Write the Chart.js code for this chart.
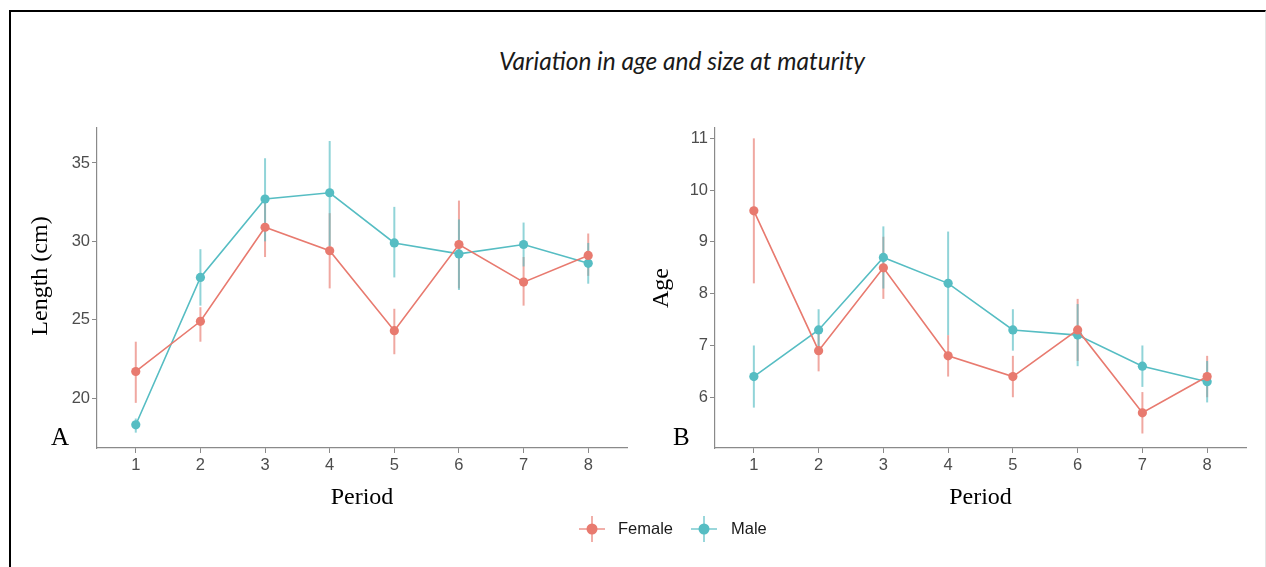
<!DOCTYPE html>
<html>
<head>
<meta charset="utf-8">
<script src="https://cdn.jsdelivr.net/npm/chart.js@4.4.1/dist/chart.umd.min.js"></script>
<style>
  body { margin: 0; background: #fff; width: 1266px; height: 567px; position: relative; overflow: hidden; font-family: "Liberation Sans", Arial, sans-serif; }
  #frame { position: absolute; left: 9px; top: 10px; width: 1257px; height: 560px; border-top: 2px solid #000; border-left: 2px solid #000; border-right: 1px solid #e4e4e4; box-sizing: border-box; }
  #title { position: absolute; top: 45px; left: 0; width: 1364px; text-align: center; font-family: Lato, "Open Sans", sans-serif; font-style: italic; font-size: 24.5px; line-height: 32px; color: #1a1a1a; }
  .panel { position: absolute; top: 110px; }
  .tag { position: absolute; font-family: "Liberation Serif", "Times New Roman", serif; font-size: 25px; color: #000; line-height: 30px; }
  .leg { position: absolute; top: 515px; }
  .legtxt { position: absolute; top: 518px; font-size: 16.5px; line-height: 20px; color: #1a1a1a; }
</style>
</head>
<body>
<div id="frame"></div>
<div id="title">Variation in age and size at maturity</div>
<div class="panel" style="left:0px"><canvas id="lenChart" width="640" height="420"></canvas></div>
<div class="panel" style="left:640px"><canvas id="ageChart" width="626" height="420"></canvas></div>
<div class="tag" style="left:51px;top:422px">A</div>
<div class="tag" style="left:673px;top:422px">B</div>

<svg class="leg" style="left:578px" width="28" height="28">
  <line x1="1" y1="14" x2="27" y2="14" stroke="#E87A6F" stroke-opacity="0.6" stroke-width="2"/>
  <line x1="14" y1="1" x2="14" y2="27" stroke="#E87A6F" stroke-opacity="0.6" stroke-width="2"/>
  <circle cx="14" cy="14" r="5.5" fill="#E87A6F"/>
</svg>
<div class="legtxt" style="left:618px">Female</div>
<svg class="leg" style="left:690px" width="28" height="28">
  <line x1="1" y1="14" x2="27" y2="14" stroke="#56BDC3" stroke-opacity="0.6" stroke-width="2"/>
  <line x1="14" y1="1" x2="14" y2="27" stroke="#56BDC3" stroke-opacity="0.6" stroke-width="2"/>
  <circle cx="14" cy="14" r="5.5" fill="#56BDC3"/>
</svg>
<div class="legtxt" style="left:731px">Male</div>

<script>
// periods on the x axis
var periods = [1, 2, 3, 4, 5, 6, 7, 8];

// Panel A: length (cm)
var lenFemale   = [21.7, 24.9, 30.9, 29.4, 24.3, 29.8, 27.4, 29.1];
var lenFemaleLo = [19.7, 23.6, 29.0, 27.0, 22.8, 27.0, 25.9, 27.8];
var lenFemaleHi = [23.6, 25.8, 32.8, 31.8, 25.7, 32.6, 29.0, 30.5];
var lenMale     = [18.3, 27.7, 32.7, 33.1, 29.9, 29.2, 29.8, 28.6];
var lenMaleLo   = [17.8, 25.9, 30.0, 29.7, 27.7, 26.9, 28.4, 27.3];
var lenMaleHi   = [18.7, 29.5, 35.3, 36.4, 32.2, 31.4, 31.2, 29.9];
var lenTicks    = [20, 25, 30, 35];

// Panel B: age
var ageFemale   = [9.6, 6.9, 8.5, 6.8, 6.4, 7.3, 5.7, 6.4];
var ageFemaleLo = [8.2, 6.5, 7.9, 6.4, 6.0, 6.7, 5.3, 6.0];
var ageFemaleHi = [11.0, 7.3, 9.1, 7.2, 6.8, 7.9, 6.1, 6.8];
var ageMale     = [6.4, 7.3, 8.7, 8.2, 7.3, 7.2, 6.6, 6.3];
var ageMaleLo   = [5.8, 6.9, 8.1, 7.2, 6.9, 6.6, 6.2, 5.9];
var ageMaleHi   = [7.0, 7.7, 9.3, 9.2, 7.7, 7.8, 7.0, 6.7];
var ageTicks    = [6, 7, 8, 9, 10, 11];

var femaleColor = "#E87A6F",
    maleColor = "#56BDC3",
    axisColor = "#8a8a8a",
    tickColor = "#4d4d4d";

function toPoints(values) {
  return values.map(function (v, i) { return { x: periods[i], y: v }; });
}

// draws the vertical error ranges under the lines and points
var errorBars = {
  id: "errorBars",
  beforeDatasetsDraw: function (chart) {
    var ctx = chart.ctx,
        xs = chart.scales.x,
        ys = chart.scales.y;
    chart.data.datasets.forEach(function (ds) {
      ctx.save();
      ctx.strokeStyle = ds.barColor;
      ctx.lineWidth = 2;
      for (var i = 0; i < ds.lo.length; i++) {
        var x = xs.getPixelForValue(periods[i]);
        ctx.beginPath();
        ctx.moveTo(x, ys.getPixelForValue(ds.lo[i]));
        ctx.lineTo(x, ys.getPixelForValue(ds.hi[i]));
        ctx.stroke();
      }
      ctx.restore();
    });
  }
};

function series(label, values, lo, hi, color, barColor) {
  return {
    label: label,
    data: toPoints(values),
    lo: lo,
    hi: hi,
    barColor: barColor,
    borderColor: color,
    backgroundColor: color,
    borderWidth: 1.6,
    pointRadius: 4.6,
    pointBorderWidth: 0,
    pointBackgroundColor: color,
    tension: 0,
    clip: false
  };
}

function makePanel(canvasId, yTitle, yMin, yMax, yTicks, yWidth, titlePad, rightPad, datasets) {
  return new Chart(document.getElementById(canvasId), {
    type: "line",
    data: { datasets: datasets },
    plugins: [errorBars],
    options: {
      responsive: false,
      animation: false,
      layout: { padding: { top: 18, right: rightPad, left: 0, bottom: 0 } },
      plugins: { legend: { display: false }, tooltip: { enabled: false } },
      scales: {
        x: {
          type: "linear",
          min: 0.4,
          max: 8.6,
          afterBuildTicks: function (scale) {
            scale.ticks = periods.map(function (p) { return { value: p }; });
          },
          afterFit: function (scale) { scale.height = 82; },
          border: { display: true, color: axisColor, width: 1.2 },
          grid: { drawOnChartArea: false, drawTicks: true, tickLength: 5, color: axisColor },
          ticks: { color: tickColor, padding: 3, font: { family: "Liberation Sans", size: 16.5 } },
          title: {
            display: true,
            text: "Period",
            color: "#000",
            font: { family: "Liberation Serif", size: 24 },
            padding: { top: 0, bottom: 18 }
          }
        },
        y: {
          min: yMin,
          max: yMax,
          afterBuildTicks: function (scale) {
            scale.ticks = yTicks.map(function (v) { return { value: v }; });
          },
          afterFit: function (scale) { scale.width = yWidth; },
          border: { display: true, color: axisColor, width: 1.2 },
          grid: { drawOnChartArea: false, drawTicks: true, tickLength: 5, color: axisColor },
          ticks: { color: tickColor, padding: 2, font: { family: "Liberation Sans", size: 16.5 } },
          title: {
            display: true,
            text: yTitle,
            color: "#000",
            font: { family: "Liberation Serif", size: 24 },
            padding: { top: titlePad, bottom: 0 }
          }
        }
      }
    }
  });
}

// leading spaces lift the rotated label a little, as in the original
makePanel("lenChart", "    Length (cm)", 16.82, 37.23, lenTicks, 97, 26, 13, [
  series("Female", lenFemale, lenFemaleLo, lenFemaleHi, femaleColor, "rgba(232,122,111,0.65)"),
  series("Male", lenMale, lenMaleLo, lenMaleHi, maleColor, "rgba(86,189,195,0.65)")
]);

makePanel("ageChart", "Age", 5.02, 11.2, ageTicks, 75, 7, 20, [
  series("Female", ageFemale, ageFemaleLo, ageFemaleHi, femaleColor, "rgba(232,122,111,0.65)"),
  series("Male", ageMale, ageMaleLo, ageMaleHi, maleColor, "rgba(86,189,195,0.65)")
]);
</script>
</body>
</html>
